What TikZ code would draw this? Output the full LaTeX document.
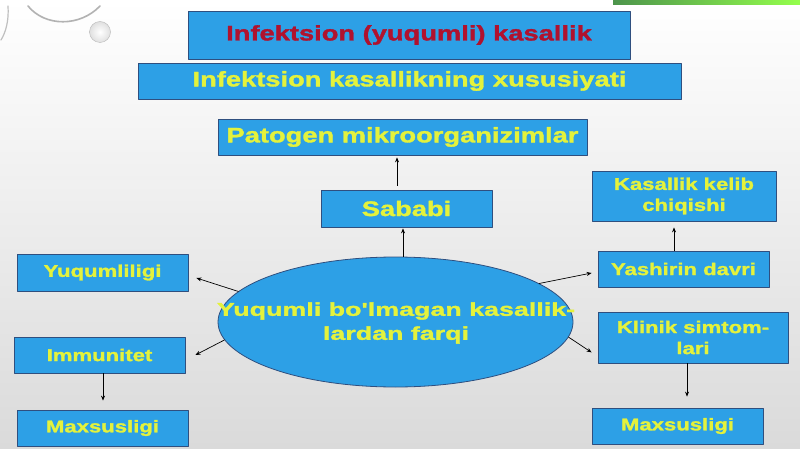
\documentclass[tikz,border=0pt]{standalone}
\usepackage{fontspec}
\setmainfont{Liberation Sans}
\newfontfamily\widefont[FakeStretch=1.3, FakeBold=1.6]{Liberation Sans}
\newfontfamily\ovalfont[FakeStretch=1.45, FakeBold=1.6]{Liberation Sans}
\usetikzlibrary{shapes.geometric, calc, arrows.meta}
\definecolor{bl}{HTML}{2DA0E6}
\definecolor{db}{HTML}{2F4F7F}
\definecolor{yl}{HTML}{E4F23C}
\definecolor{rd}{HTML}{B0122E}
\definecolor{gr}{HTML}{DADADA}

\begin{document}
\begin{tikzpicture}[x=1pt, y=-1pt, line cap=round, line join=round,
    box/.style={draw=db, fill=bl, line width=0.8pt, inner sep=0pt, align=center, text=yl},
    bigbox/.style={box, minimum height=36pt, font=\widefont\bfseries\fontsize{21}{24}\selectfont},
    smallbox/.style={box, minimum width=171pt, minimum height=36pt, font=\widefont\bfseries\fontsize{17}{21}\selectfont},
    arr/.style={-{Stealth[length=5pt,width=4pt]}, line width=0.7pt, black}]

    % page background
    \shade[top color=white, bottom color=gr] (0,0) rectangle (800,449);
    \useasboundingbox (0,0) rectangle (800,449);

    % green bar and drops in the corners
    \shade[left color=green!40!black!70, right color=green!60!yellow!70] (613,0) rectangle (800,5);
    \draw[gray!60, line width=1.6pt] (28,6) .. controls (45,27) and (80,27) .. (100,6);
    \draw[gray!50, line width=1.2pt] (8,6) .. controls (9,20) and (6,32) .. (1,40);
    \shade[inner color=white, outer color=gray!25, draw=gray!55] (100,32) circle (10.5);

    % top boxes
    \node[bigbox, minimum width=442pt, minimum height=48pt, text=rd] (title) at (409,35) {Infektsion (yuqumli) kasallik};
    \node[bigbox, minimum width=543pt] (feat) at (409.5,81) {Infektsion kasallikning xususiyati};
    \node[bigbox, minimum width=369pt] (pat) at (402.5,137) {Patogen mikroorganizimlar};
    \node[bigbox, minimum width=171pt, minimum height=37pt] (sab) at (406.5,208.5) {Sababi};

    % central oval
    \node[ellipse, draw=db, fill=bl, line width=0.8pt, minimum width=355pt, minimum height=130pt, inner sep=0pt] (ell) at (395.5,322) {};
    \node[text=yl, align=center, inner sep=0pt, font=\ovalfont\bfseries\fontsize{18.5}{24}\selectfont] (ellt) at (396,323) {Yuqumli bo'lmagan kasallik-\\lardan farqi};

    % left column
    \node[smallbox, minimum height=37pt] (yuq) at (102.5,272.5) {Yuqumliligi};
    \node[smallbox] (imm) at (99.5,355) {Immunitet};
    \node[smallbox] (maxl) at (102.5,428) {Maxsusligi};

    % right column
    \node[smallbox, minimum width=184pt, minimum height=50pt] (kel) at (684,196) {Kasallik kelib\\chiqishi};
    \node[smallbox] (yash) at (683.5,269) {Yashirin davri};
    \node[smallbox, minimum width=190pt, minimum height=51pt] (klin) at (693,337.5) {Klinik simtom-\\lari};
    \node[smallbox] (maxr) at (677.5,426) {Maxsusligi};

    % arrows
    \draw[arr] ($(sab.north)+(-9.5,-4)$) -- ($(pat.south)+(-5.5,2)$);
    \draw[arr] ($(ell.north)+(7.5,0)$) -- ($(sab.south)+(-3.5,1)$);
    \draw[arr] (ell.169) -- ($(yuq.east)+(8,5.5)$);
    \draw[arr] (ell.186) -- ($(imm.east)+(10,0)$);
    \draw[arr] (ell.15) -- ($(yash.west)+(-6,4)$);
    \draw[arr] (ell.355) -- ($(klin.south west)+(-6,-11)$);
    \draw[arr] ($(yash.north)+(-9.5,0)$) -- ($(kel.south)+(-10,6)$);
    \draw[arr] ($(klin.south)+(-6,0)$) -- ($(maxr.north)+(9.5,-11)$);
    \draw[arr] ($(imm.south)+(3.5,0)$) -- ($(maxl.north)+(0.5,-9)$);

\end{tikzpicture}
\end{document}
